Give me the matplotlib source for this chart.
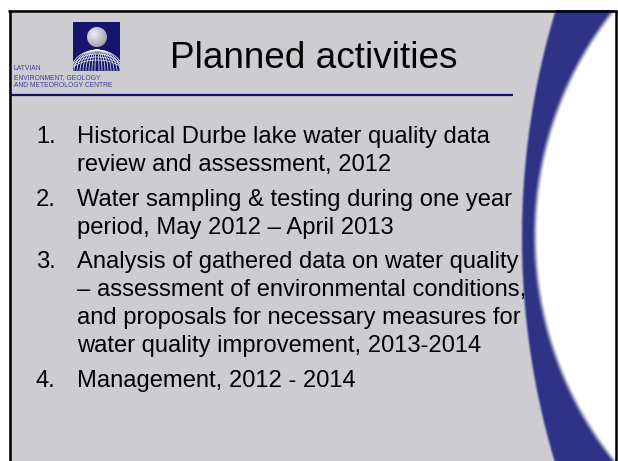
import numpy as np
import matplotlib
matplotlib.use('Agg')
import matplotlib.pyplot as plt
from matplotlib.patches import Rectangle, Circle, Arc

# Slide content
title = 'Planned activities'
org_lines = ['LATVIAN', 'ENVIRONMENT, GEOLOGY', 'AND METEOROLOGY CENTRE']
item_numbers = ['1.', '2.', '3.', '4.']
item_lines = [
    ['Historical Durbe lake water quality data', 'review and assessment, 2012'],
    ['Water sampling & testing during one year', 'period, May 2012 \u2013 April 2013'],
    ['Analysis of gathered data on water quality',
     '\u2013 assessment of environmental conditions,',
     'and proposals for necessary measures for',
     'water quality improvement, 2013-2014'],
    ['Management, 2012 - 2014'],
]

# Colour palette
colors = {
    'slide': (205, 205, 209),
    'band': (46, 51, 133),
    'white': (255, 255, 255),
    'navy': '#12126E',
    'org': '#3A3A9C',
    'text': '#000000',
}

W, H = 618, 461
FONT = 'Liberation Sans'


def smooth(d, w):
    t = np.clip(0.5 + d / (2 * w), 0, 1)
    return t * t * (3 - 2 * t)


def background():
    X, Y = np.meshgrid(np.arange(W) + 0.5, np.arange(H) + 0.5)
    d_out = np.hypot(X - 1302, Y - 238) - 780
    d_in = np.hypot(X - 895, Y - 236) - 360
    band = smooth(-d_out, 2.0)[..., None]
    inner = smooth(-d_in, 3.5)[..., None]
    slide = np.array(colors['slide'], float)
    blue = np.array(colors['band'], float)
    white = np.array(colors['white'], float)
    rgb = slide * (1 - band) + blue * band
    rgb = rgb * (1 - inner) + white * inner
    outside = (X < 9) | (Y < 11) | (X > 616)
    rgb[outside] = white
    return rgb / 255.0


def draw_logo(ax):
    x0, y0, size_w, size_h = 73, 22, 47, 49
    sq = Rectangle((x0, y0), size_w, size_h, facecolor='#15156E', edgecolor='none', zorder=2)
    ax.add_patch(sq)

    # sphere with radial gradient
    cx, cy, r = 97, 37, 10
    gx, gy = np.meshgrid(np.linspace(cx - r, cx + r, 60), np.linspace(cy - r, cy + r, 60))
    dist = np.hypot(gx - (cx - 3), gy - (cy - 3)) / (1.6 * r)
    shade = np.clip(0.95 - 0.35 * dist, 0, 1)
    img = np.dstack([shade * 0.98, shade * 0.99, shade * 1.02]).clip(0, 1)
    im = ax.imshow(img, extent=(cx - r, cx + r, cy + r, cy - r), zorder=3, interpolation='bilinear')
    im.set_clip_path(Circle((cx, cy), r, transform=ax.transData))

    # globe lines
    mx, my = 97, 71
    for half_w in [2, 5, 8, 11, 14, 17, 20, 23, 26]:
        arc = Arc((mx, my), 2 * half_w, 42, theta1=180, theta2=360,
                  edgecolor='white', lw=0.5, zorder=3)
        ax.add_patch(arc)
        arc.set_clip_path(sq)
    for hh in [42, 36, 30]:
        arc = Arc((mx, my + 4), 56, hh, theta1=180, theta2=360,
                  edgecolor='white', lw=0.5, zorder=3)
        ax.add_patch(arc)
        arc.set_clip_path(sq)

    for i, line in enumerate(org_lines):
        ax.text(14, 70.5 + i * 8.2, line, fontsize=4.9, color=colors['org'],
                family=FONT, ha='left', va='baseline', zorder=4)


def main():
    fig = plt.figure(figsize=(W / 100, H / 100), dpi=100)
    ax = fig.add_axes([0, 0, 1, 1])
    ax.set_xlim(0, W)
    ax.set_ylim(H, 0)
    ax.axis('off')

    ax.imshow(background(), extent=(0, W, H, 0), zorder=0, interpolation='nearest')

    # slide frame
    ax.plot([9.5, 9.5], [10, H], color='black', lw=1.8, zorder=5, solid_capstyle='butt')
    ax.plot([8, 617], [11, 11], color='black', lw=1.8, zorder=5, solid_capstyle='butt')
    ax.plot([616, 616], [10, H], color='black', lw=1.8, zorder=5, solid_capstyle='butt')

    draw_logo(ax)

    ax.text(313.5, 68, title, fontsize=26.6, family=FONT, color=colors['text'],
            ha='center', va='baseline', zorder=4)
    ax.plot([10, 513], [95, 95], color=colors['navy'], lw=1.6, zorder=4, solid_capstyle='butt')

    y = 143
    for num, lines in zip(item_numbers, item_lines):
        ax.text(36, y, num, fontsize=17.1, family=FONT, color=colors['text'],
                ha='left', va='baseline', zorder=4)
        for line in lines:
            ax.text(77, y, line, fontsize=17.1, family=FONT, color=colors['text'],
                    ha='left', va='baseline', zorder=4)
            y += 28
        y += 6.5

    fig.savefig('out.png', dpi=100)


if __name__ == "__main__":
    main()
